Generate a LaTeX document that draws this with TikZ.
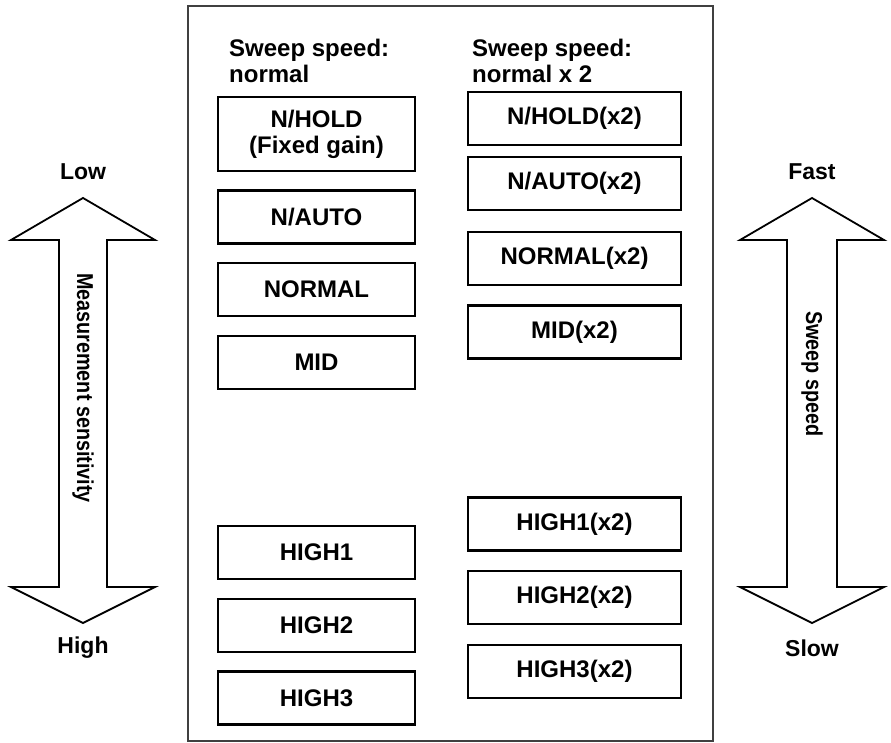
\documentclass[tikz,border=0pt]{standalone}
\usepackage{fontspec}
\usepackage{graphicx}
\setmainfont{Liberation Sans}
\newcommand{\narrowtext}[1]{\scalebox{0.86}[1]{#1}}
\begin{document}
\begin{tikzpicture}[x=1pt, y=-1pt,
  modebox/.style={draw=black, line width=2.4pt, minimum height=53pt, inner sep=0pt, align=center, font=\bfseries\fontsize{24}{26}\selectfont},
  leftbox/.style={modebox, minimum width=197pt},
  rightbox/.style={modebox, minimum width=213pt},
  headtext/.style={anchor=base west, align=left, inner sep=0pt, font=\bfseries\fontsize{24}{26}\selectfont},
  endtext/.style={font=\bfseries\fontsize{23}{26}\selectfont},
  sidetext/.style={rotate=-90, font=\bfseries\fontsize{23}{26}\selectfont},
  bigarrow/.style={draw=black, line width=1.8pt, fill=white, line join=miter}]
\useasboundingbox (0,0) rectangle (891,743);

%outer frame
\draw [line width=1.4pt, draw=black!75] (188,6) rectangle (713,741);

%column headings
\node[headtext] (headnormal) at (229,83) {Sweep speed:\\normal};
\node[headtext] (headdouble) at (472,83) {Sweep speed:\\normal x 2};

%normal sweep speed
\node[leftbox, minimum height=74pt] (nhold) at (316.5,134) {N/HOLD\\(Fixed gain)};
\node[leftbox] (nauto) at (316.5,217) {N/AUTO};
\node[leftbox] (normal) at (316.5,289.5) {NORMAL};
\node[leftbox] (mid) at (316.5,362.5) {MID};
\node[leftbox] (highone) at (316.5,552.5) {HIGH1};
\node[leftbox] (hightwo) at (316.5,625.5) {HIGH2};
\node[leftbox] (highthree) at (316.5,698) {HIGH3};

%double sweep speed
\node[rightbox] (nholdx) at (574.5,118.5) {N/HOLD(x2)};
\node[rightbox] (nautox) at (574.5,183.5) {N/AUTO(x2)};
\node[rightbox] (normalx) at (574.5,258.5) {NORMAL(x2)};
\node[rightbox] (midx) at (574.5,332) {MID(x2)};
\node[rightbox] (highonex) at (574.5,524) {HIGH1(x2)};
\node[rightbox] (hightwox) at (574.5,597.5) {HIGH2(x2)};
\node[rightbox] (highthreex) at (574.5,671.5) {HIGH3(x2)};

%sensitivity arrow
\draw [bigarrow] (83,198) -- (155,240) -- (107,240) -- (107,587) -- (155,587) -- (83,623)
  -- (11,587) -- (59,587) -- (59,240) -- (11,240) -- cycle;
\node[endtext] (low) at (83,172) {Low};
\node[endtext] (high) at (83,648) {High};
\node[sidetext] (sensitivity) at (83,388) {\narrowtext{Measurement sensitivity}};

%speed arrow
\draw [bigarrow] (812,198) -- (884,240) -- (837,240) -- (837,587) -- (884,587) -- (812,623)
  -- (740,587) -- (787,587) -- (787,240) -- (740,240) -- cycle;
\node[endtext] (fast) at (812,172) {Fast};
\node[endtext] (slow) at (812,648) {Slow};
\node[sidetext] (sweep) at (812,374) {\narrowtext{Sweep speed}};
\end{tikzpicture}
\end{document}
